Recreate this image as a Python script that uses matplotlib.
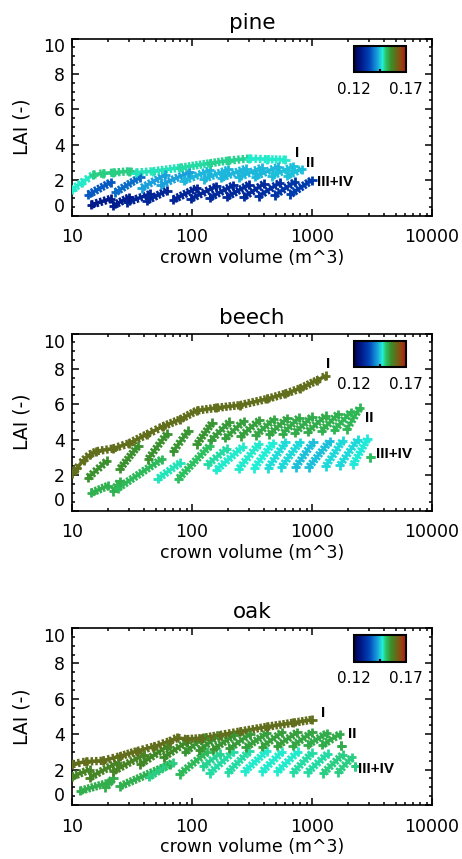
import matplotlib
matplotlib.use('Agg')
import matplotlib.pyplot as plt
import matplotlib.patheffects as pe
from matplotlib.colors import LinearSegmentedColormap, Normalize
from matplotlib.cm import ScalarMappable
from matplotlib.ticker import LogLocator, NullFormatter, MultipleLocator

# colour scale of the small colour bar
cb_min, cb_max = 0.12, 0.17
cb_ticks = [0.12, 0.17]
cb_labels = ['0.12', '0.17']

x_ticks = [10, 100, 1000, 10000]
x_tick_labels = ['10', '100', '1000', '10000']
y_ticks = [0, 2, 4, 6, 8, 10]

panel_names = ['pine', 'beech', 'oak']
class_names = ['I', 'II', 'III+IV']

# ---- pine ----
pine_I_x = [10, 12, 15, 18, 22, 30, 34, 47, 80, 140, 200, 300, 420, 600]
pine_I_y = [1.46, 1.85, 2.3, 2.38, 2.42, 2.5, 2.42, 2.5, 2.7, 2.95, 3.1, 3.22, 3.18, 3.15]
pine_I_c = [0.1478, 0.148, 0.150, 0.150, 0.150, 0.150, 0.1485, 0.1485, 0.149, 0.1495,
            0.1495, 0.1478, 0.1478, 0.1478]

# sawtooth classes: start (x0, y0) and end (x1, y1) of every tooth
pine_II_x0 = [13.6, 23, 38, 55, 85, 125, 175, 245, 335, 460, 620]
pine_II_y0 = [1.17, 1.31, 1.55, 1.73, 1.95, 2.05, 2.12, 2.15, 2.2, 2.22, 2.25]
pine_II_x1 = [21, 37, 60, 95, 140, 200, 280, 380, 520, 700, 820]
pine_II_y1 = [1.87, 2.16, 2.3, 2.44, 2.55, 2.6, 2.65, 2.7, 2.75, 2.78, 2.62]
pine_II_c = [0.1365, 0.138, 0.1425, 0.1425, 0.144, 0.144, 0.144, 0.144, 0.144, 0.1445, 0.1445]

pine_III_x0 = [14.5, 22, 29, 42, 70, 98, 140, 195, 270, 360, 490, 660]
pine_III_y0 = [0.61, 0.56, 0.75, 0.84, 0.9, 0.95, 1.0, 1.05, 1.05, 1.1, 1.15, 1.2]
pine_III_x1 = [21, 30, 45, 62, 110, 160, 220, 300, 400, 540, 720, 1000]
pine_III_y1 = [0.94, 1.03, 1.22, 1.41, 1.55, 1.65, 1.7, 1.75, 1.8, 1.85, 1.9, 2.0]
pine_III_c = [0.1275, 0.128, 0.129, 0.1295, 0.129, 0.1295, 0.13, 0.13, 0.13, 0.131, 0.132, 0.133]

# ---- beech ----
beech_I_x = [10, 11, 12.5, 14, 16, 22, 30, 42, 57, 80, 110, 160, 250, 420, 600, 800, 1100, 1300]
beech_I_y = [2.1, 2.4, 2.85, 3.15, 3.35, 3.5, 3.8, 4.3, 4.75, 5.15, 5.65, 5.8, 5.95, 6.3, 6.6,
             6.9, 7.35, 7.6]
beech_I_c = [0.16] * 18

beech_II_x0 = [13.6, 25, 43, 70, 110, 145, 190, 255, 340, 440, 570, 720, 920, 1200, 1530, 1950]
beech_II_y0 = [1.85, 2.35, 2.9, 3.35, 3.75, 4.0, 4.1, 4.2, 4.25, 4.3, 4.35, 4.4, 4.45, 4.5, 4.55, 4.6]
beech_II_x1 = [19.5, 35.5, 62, 93, 147, 205, 270, 365, 480, 620, 780, 1000, 1300, 1650, 2100, 2500]
beech_II_y1 = [2.8, 3.65, 4.35, 4.5, 4.95, 5.0, 5.05, 5.1, 5.15, 5.2, 5.25, 5.3, 5.35, 5.45, 5.55, 5.8]
beech_II_c = [0.1555, 0.1555, 0.1555, 0.155, 0.155, 0.1545, 0.154, 0.154, 0.1535, 0.1535,
              0.153, 0.153, 0.153, 0.1525, 0.152, 0.152]

beech_III_x0 = [14.5, 22, 24, 52, 77, 135, 160, 245, 330, 430, 555, 730, 940, 1300, 1700, 2200, 3050]
beech_III_y0 = [1.0, 1.1, 1.25, 1.8, 1.8, 2.6, 2.3, 2.35, 2.4, 2.4, 2.45, 2.45, 2.45, 2.5, 2.55, 2.6, 3.0]
beech_III_x1 = [20, 25, 56, 80, 140, 195, 265, 360, 470, 600, 790, 1020, 1400, 1800, 2400, 2900, 3050]
beech_III_y1 = [1.4, 1.65, 2.9, 2.7, 3.65, 3.5, 3.6, 3.75, 3.8, 3.85, 3.85, 3.85, 3.9, 3.95, 4.0, 4.05, 3.0]
beech_III_c = [0.1525, 0.1525, 0.1515, 0.1485, 0.151, 0.149, 0.1478, 0.1478, 0.1475, 0.1462,
               0.146, 0.1445, 0.1445, 0.146, 0.146, 0.147, 0.151]

# ---- oak ----
oak_I_x = [10, 13, 18, 25, 35, 48, 65, 75, 90, 120, 170, 250, 420, 700, 1000]
oak_I_y = [2.3, 2.45, 2.5, 2.75, 3.05, 3.3, 3.6, 3.8, 3.72, 3.78, 3.95, 4.15, 4.42, 4.65, 4.82]
oak_I_c = [0.16] * 15

oak_II_x0 = [10, 14, 22, 37, 58, 88, 115, 150, 205, 280, 385, 515, 690, 920, 1220, 1750]
oak_II_y0 = [1.6, 1.55, 1.9, 2.3, 2.7, 3.0, 3.1, 3.15, 3.2, 3.25, 3.3, 3.35, 3.35, 3.4, 3.4, 3.35]
oak_II_x1 = [14, 24, 40, 62, 90, 125, 165, 225, 305, 420, 560, 750, 1000, 1330, 1700, 1750]
oak_II_y1 = [2.0, 2.4, 2.85, 3.3, 3.55, 3.8, 3.9, 3.95, 4.0, 4.05, 4.1, 4.1, 4.1, 4.05, 4.0, 3.35]
oak_II_c = [0.157, 0.157, 0.157, 0.1565, 0.156, 0.155, 0.155, 0.155, 0.1545, 0.154, 0.154,
            0.154, 0.1535, 0.153, 0.153, 0.153]

oak_III_x0 = [11.7, 19, 25, 44, 79, 124, 140, 200, 275, 385, 515, 700, 920, 1240, 1650, 2290]
oak_III_y0 = [0.8, 1.0, 1.05, 1.6, 1.75, 2.2, 1.8, 1.85, 1.9, 1.9, 1.9, 1.85, 1.85, 1.8, 1.85, 2.2]
oak_III_x1 = [20, 22, 66, 69, 134, 171, 220, 300, 420, 560, 760, 1000, 1350, 1800, 2150, 2290]
oak_III_y1 = [1.25, 1.5, 2.3, 2.4, 3.0, 2.9, 3.0, 3.05, 3.05, 3.0, 3.0, 2.95, 2.9, 2.85, 2.7, 2.2]
oak_III_c = [0.1528, 0.1528, 0.1525, 0.15, 0.1515, 0.1495, 0.149, 0.149, 0.1478, 0.1478,
             0.1478, 0.149, 0.149, 0.15, 0.15, 0.15]

# where the class names sit (data coords of each panel)
pine_label_pos = [(722, 3.51), (889, 2.98), (1100, 1.91)]
beech_label_pos = [(1301, 8.29), (2762, 5.22), (3433, 3.2)]
oak_label_pos = [(1193, 5.2), (1995, 4.02), (2420, 2.05)]

# IDL-like colour table: navy - blue - cyan - green - olive - red
cmap = LinearSegmentedColormap.from_list('idl', [
    (0.0, '#000050'), (0.15, '#001a8c'), (0.3, '#0048bb'), (0.45, '#1aa0dc'),
    (0.55, '#20f0d8'), (0.62, '#2cc060'), (0.72, '#3c8c28'), (0.82, '#6a6618'),
    (0.92, '#964010'), (1.0, '#b41414')])
norm = Normalize(cb_min, cb_max)

# '+' rows: thick line with small cross ticks on both sides
line_kw = dict(lw=2.6, solid_capstyle='butt', zorder=3,
               path_effects=[pe.TickedStroke(spacing=2.6, angle=90, length=1.15, linewidth=1.8),
                             pe.TickedStroke(spacing=2.6, angle=-90, length=1.15, linewidth=1.8),
                             pe.Normal()])
mark_kw = dict(marker='+', s=42, linewidths=2.0, cmap=cmap, norm=norm, zorder=4)


def draw_curve(ax, x, y, c):
    for i in range(len(x) - 1):
        ax.plot(x[i:i + 2], y[i:i + 2], color=cmap(norm(c[i])), **line_kw)
    ax.scatter(x, y, c=c, **mark_kw)


def draw_teeth(ax, x0, y0, x1, y1, c):
    for a, b, p, q, v in zip(x0, y0, x1, y1, c):
        if a != p or b != q:
            ax.plot([a, p], [b, q], color=cmap(norm(v)), **line_kw)
    ax.scatter(x0 + x1, y0 + y1, c=c + c, **mark_kw)


fig = plt.figure(figsize=(4.62, 8.59), dpi=100)
W, H = 462.0, 859.0
panel_tops = [38.5, 333.5, 628]

data = [
    (pine_I_x, pine_I_y, pine_I_c,
     (pine_II_x0, pine_II_y0, pine_II_x1, pine_II_y1, pine_II_c),
     (pine_III_x0, pine_III_y0, pine_III_x1, pine_III_y1, pine_III_c), pine_label_pos),
    (beech_I_x, beech_I_y, beech_I_c,
     (beech_II_x0, beech_II_y0, beech_II_x1, beech_II_y1, beech_II_c),
     (beech_III_x0, beech_III_y0, beech_III_x1, beech_III_y1, beech_III_c), beech_label_pos),
    (oak_I_x, oak_I_y, oak_I_c,
     (oak_II_x0, oak_II_y0, oak_II_x1, oak_II_y1, oak_II_c),
     (oak_III_x0, oak_III_y0, oak_III_x1, oak_III_y1, oak_III_c), oak_label_pos),
]

for name, top, (ix, iy, ic, two, three, lpos) in zip(panel_names, panel_tops, data):
    ax = fig.add_axes([72 / W, 1 - (top + 177) / H, 360 / W, 177 / H])

    draw_teeth(ax, *three)
    draw_teeth(ax, *two)
    draw_curve(ax, ix, iy, ic)

    for txt, (tx, ty) in zip(class_names, lpos):
        ax.text(tx, ty, txt, ha='left', va='center', fontsize=11, fontweight='bold',
                family='Liberation Sans', zorder=5)

    ax.set_xscale('log')
    ax.set_xlim(10, 10000)
    ax.set_ylim(0, 10)
    ax.set_xticks(x_ticks, labels=x_tick_labels)
    ax.xaxis.set_minor_locator(LogLocator(base=10, subs=range(2, 10)))
    ax.xaxis.set_minor_formatter(NullFormatter())
    ax.set_yticks(y_ticks)
    ax.yaxis.set_minor_locator(MultipleLocator(0.5))
    ax.tick_params(which='both', direction='in', top=True, right=True, width=1.1)
    ax.tick_params(which='major', length=5)
    ax.tick_params(which='minor', length=2.5)
    ax.tick_params(axis='x', pad=9, labelsize=12.5)
    ax.tick_params(axis='y', pad=5, labelsize=12.5)
    yt = ax.yaxis.get_major_ticks()
    yt[0].label1.set_verticalalignment('bottom')
    yt[-1].label1.set_verticalalignment('top')
    for s in ax.spines.values():
        s.set_linewidth(1.2)

    ax.set_title(name, fontsize=15.5, pad=7)
    ax.set_xlabel('crown volume (m^3)', fontsize=12.5, labelpad=2)
    ax.set_ylabel('LAI (-)', fontsize=13.5, labelpad=8)

    # small colour bar in the upper right corner
    cax = ax.inset_axes([0.783, 0.81, 0.145, 0.15])
    cb = fig.colorbar(ScalarMappable(norm=norm, cmap=cmap), cax=cax,
                      orientation='horizontal', ticks=cb_ticks)
    cb.set_ticklabels(cb_labels)
    cb.set_ticks([0.145], minor=True)
    cb.outline.set_linewidth(1.5)
    cax.tick_params(which='major', length=0, pad=7, labelsize=11)
    cax.tick_params(which='minor', length=2, width=1.5, direction='in', color='black')

fig.savefig('out.png', dpi=100)
